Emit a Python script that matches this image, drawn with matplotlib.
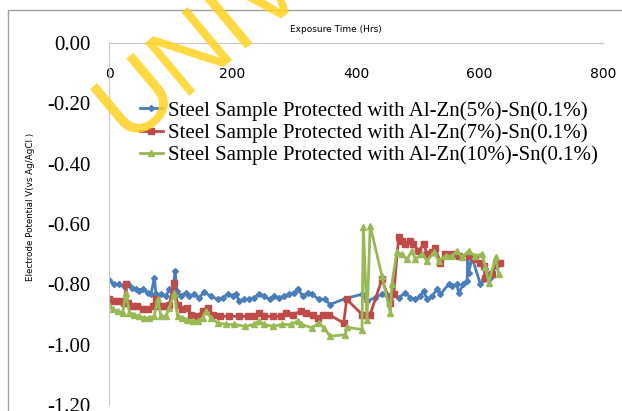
import numpy as np
import matplotlib
matplotlib.use('Agg')
import matplotlib.pyplot as plt
from matplotlib.patches import Rectangle

plt.rcParams['axes.unicode_minus'] = False

# exposure time (hrs) and electrode potential (V vs Ag/AgCl)
t_5 = [0, 8.6, 16.7, 24.8, 30, 38, 43.7, 48.6, 54.5, 62.7, 68, 73.4, 76, 84, 92, 97.7, 103, 107, 110,
       116.6, 124.7, 130, 138, 146, 154, 165, 176, 184, 192, 200, 206, 211, 219, 227, 235, 243, 251,
       260, 268, 276, 284, 292, 299, 305.6, 313.7, 322, 329, 339.6, 350, 358, 382.7, 409.7, 417.8,
       430, 442, 450, 458, 469, 480, 488, 496, 504, 509.6, 515, 523, 531, 536.6, 550, 555.5, 563.6,
       566, 574, 580, 581, 582.5, 588, 601.5, 607, 609.6, 617.6, 626]
v_5 = [-0.786, -0.80, -0.80, -0.806, -0.80, -0.811, -0.817, -0.822, -0.814, -0.828, -0.833, -0.778,
       -0.833, -0.833, -0.839, -0.817, -0.828, -0.756, -0.822, -0.839, -0.828, -0.839, -0.833, -0.844,
       -0.826, -0.839, -0.85, -0.844, -0.833, -0.839, -0.833, -0.856, -0.85, -0.85, -0.844, -0.833,
       -0.839, -0.85, -0.839, -0.844, -0.839, -0.833, -0.828, -0.814, -0.839, -0.828, -0.833, -0.85,
       -0.85, -0.867, -0.847, -0.833, -0.856, -0.845, -0.833, -0.836, -0.833, -0.844, -0.828, -0.844,
       -0.85, -0.839, -0.822, -0.85, -0.839, -0.817, -0.833, -0.80, -0.806, -0.80, -0.828, -0.80,
       -0.789, -0.70, -0.761, -0.711, -0.80, -0.783, -0.75, -0.778, -0.739]

t_7 = [0, 8.6, 16.7, 24.8, 27.5, 30, 38, 46, 54.5, 62.7, 70.8, 76, 81.5, 89.6, 97.6, 105.8, 111, 119,
       127, 133, 143.6, 151.7, 160, 168, 180, 195, 210, 225, 235, 243, 251, 265, 278, 286.6, 298, 311,
       319, 330, 338, 346, 356, 380, 385, 410, 416, 423, 442, 455.6, 461, 469, 474, 480, 488, 493,
       501, 510, 515, 523, 528, 536.6, 544.6, 555.5, 566, 582.5, 593, 601.5, 607, 609.6, 620, 626, 634]
v_7 = [-0.848, -0.856, -0.856, -0.861, -0.80, -0.861, -0.872, -0.872, -0.883, -0.883, -0.872, -0.85,
       -0.872, -0.872, -0.867, -0.794, -0.867, -0.883, -0.878, -0.90, -0.906, -0.889, -0.878, -0.90,
       -0.906, -0.906, -0.906, -0.906, -0.906, -0.894, -0.906, -0.906, -0.906, -0.894, -0.90, -0.889,
       -0.894, -0.90, -0.911, -0.903, -0.90, -0.928, -0.85, -0.90, -0.90, -0.90, -0.783, -0.861,
       -0.833, -0.644, -0.656, -0.667, -0.656, -0.667, -0.689, -0.667, -0.70, -0.694, -0.678, -0.728,
       -0.70, -0.70, -0.706, -0.706, -0.717, -0.728, -0.739, -0.778, -0.767, -0.733, -0.728]

t_10 = [0, 6, 14, 22, 27.5, 33, 41, 49, 57, 65, 73, 79, 84, 92, 97.6, 105.8, 111, 119, 127, 135.5,
        143.6, 151.7, 157, 165, 176, 190, 203, 220, 235, 243, 251, 265, 280, 295, 305.6, 311, 329,
        339.6, 348, 358, 382.7, 385, 409.7, 412, 417.8, 423, 442, 455.6, 458, 466, 474, 482.5, 490.6,
        496, 506.7, 515, 526, 534, 545, 555.5, 563.6, 572, 582.5, 593, 604, 609.6, 615, 626, 631]
v_10 = [-0.867, -0.883, -0.889, -0.894, -0.828, -0.894, -0.90, -0.906, -0.911, -0.911, -0.906, -0.85,
        -0.906, -0.906, -0.878, -0.828, -0.906, -0.911, -0.917, -0.922, -0.922, -0.911, -0.889, -0.911,
        -0.928, -0.933, -0.933, -0.939, -0.933, -0.922, -0.933, -0.939, -0.933, -0.933, -0.922, -0.933,
        -0.944, -0.928, -0.944, -0.972, -0.967, -0.942, -0.95, -0.611, -0.917, -0.606, -0.772, -0.894,
        -0.80, -0.694, -0.70, -0.717, -0.689, -0.717, -0.70, -0.722, -0.694, -0.722, -0.706, -0.706,
        -0.689, -0.711, -0.689, -0.706, -0.70, -0.744, -0.794, -0.711, -0.767]

labels = ['Steel Sample Protected with Al-Zn(5%)-Sn(0.1%)',
          'Steel Sample Protected with Al-Zn(7%)-Sn(0.1%)',
          'Steel Sample Protected with Al-Zn(10%)-Sn(0.1%)']
yticks = [-1.2, -1.0, -0.8, -0.6, -0.4, -0.2, 0.0]
xticks = [0, 200, 400, 600, 800]

fig = plt.figure(figsize=(6.22, 4.11), dpi=100)
ax = fig.add_axes([109/622, 1 - 405/411, (603 - 109)/622, (405 - 43)/411])

ax.plot(t_5, v_5, '-D', color='#4A7EBB', lw=2, ms=3, label=labels[0])
ax.plot(t_7, v_7, '-s', color='#BE4B48', lw=2, ms=4, label=labels[1])
ax.plot(t_10, v_10, '-^', color='#98B954', lw=2, ms=5, label=labels[2])

ax.set_xlim(0, 800)
ax.set_ylim(-1.2, 0)
ax.set_xticks(xticks)
ax.set_yticks(yticks)
ax.set_yticklabels(['%.2f' % abs(v) if v == 0 else '%.2f' % v for v in yticks])
for lab in ax.get_xticklabels() + ax.get_yticklabels():
    lab.set_fontfamily('Liberation Serif')
    lab.set_fontsize(15)
ax.tick_params(axis='x', top=False, bottom=False, labeltop=True, labelbottom=False, pad=-27, length=0)
ax.tick_params(axis='y', length=0, pad=13)

ax.spines['right'].set_visible(False)
ax.spines['bottom'].set_visible(False)
ax.spines['left'].set_color('#c8c8c8')
ax.spines['top'].set_color('#c8c8c8')

fig.text(336/622, 1 - 29/411, 'Exposure Time (Hrs)', fontsize=6.5, ha='center', va='center')
fig.text(31/622, 1 - 207/411, 'Electrode Potential V(vs Ag/AgCl )', fontsize=6.3, rotation=90,
         ha='center', va='center')

leg = ax.legend(loc='upper left', bbox_to_anchor=(140/622, 1 - 101/411),
                bbox_transform=fig.transFigure, frameon=False,
                prop={'family': 'Liberation Serif', 'size': 15},
                handlelength=1.1, handletextpad=0.25, labelspacing=0.12, borderpad=0, borderaxespad=0)

fig.patches.append(Rectangle((8/622, -0.1), 1.2, 1 - 10/411 + 0.1, transform=fig.transFigure,
                             fill=False, edgecolor='#a0a0a0', lw=1))

# watermark
fig.text(80/622, 1 - 158/411, 'UNIVERSITY', fontsize=72, color='#FFD21F', alpha=0.85,
         rotation=40, ha='left', va='bottom', family='Liberation Sans', zorder=10)

fig.savefig('out.png', dpi=100)
